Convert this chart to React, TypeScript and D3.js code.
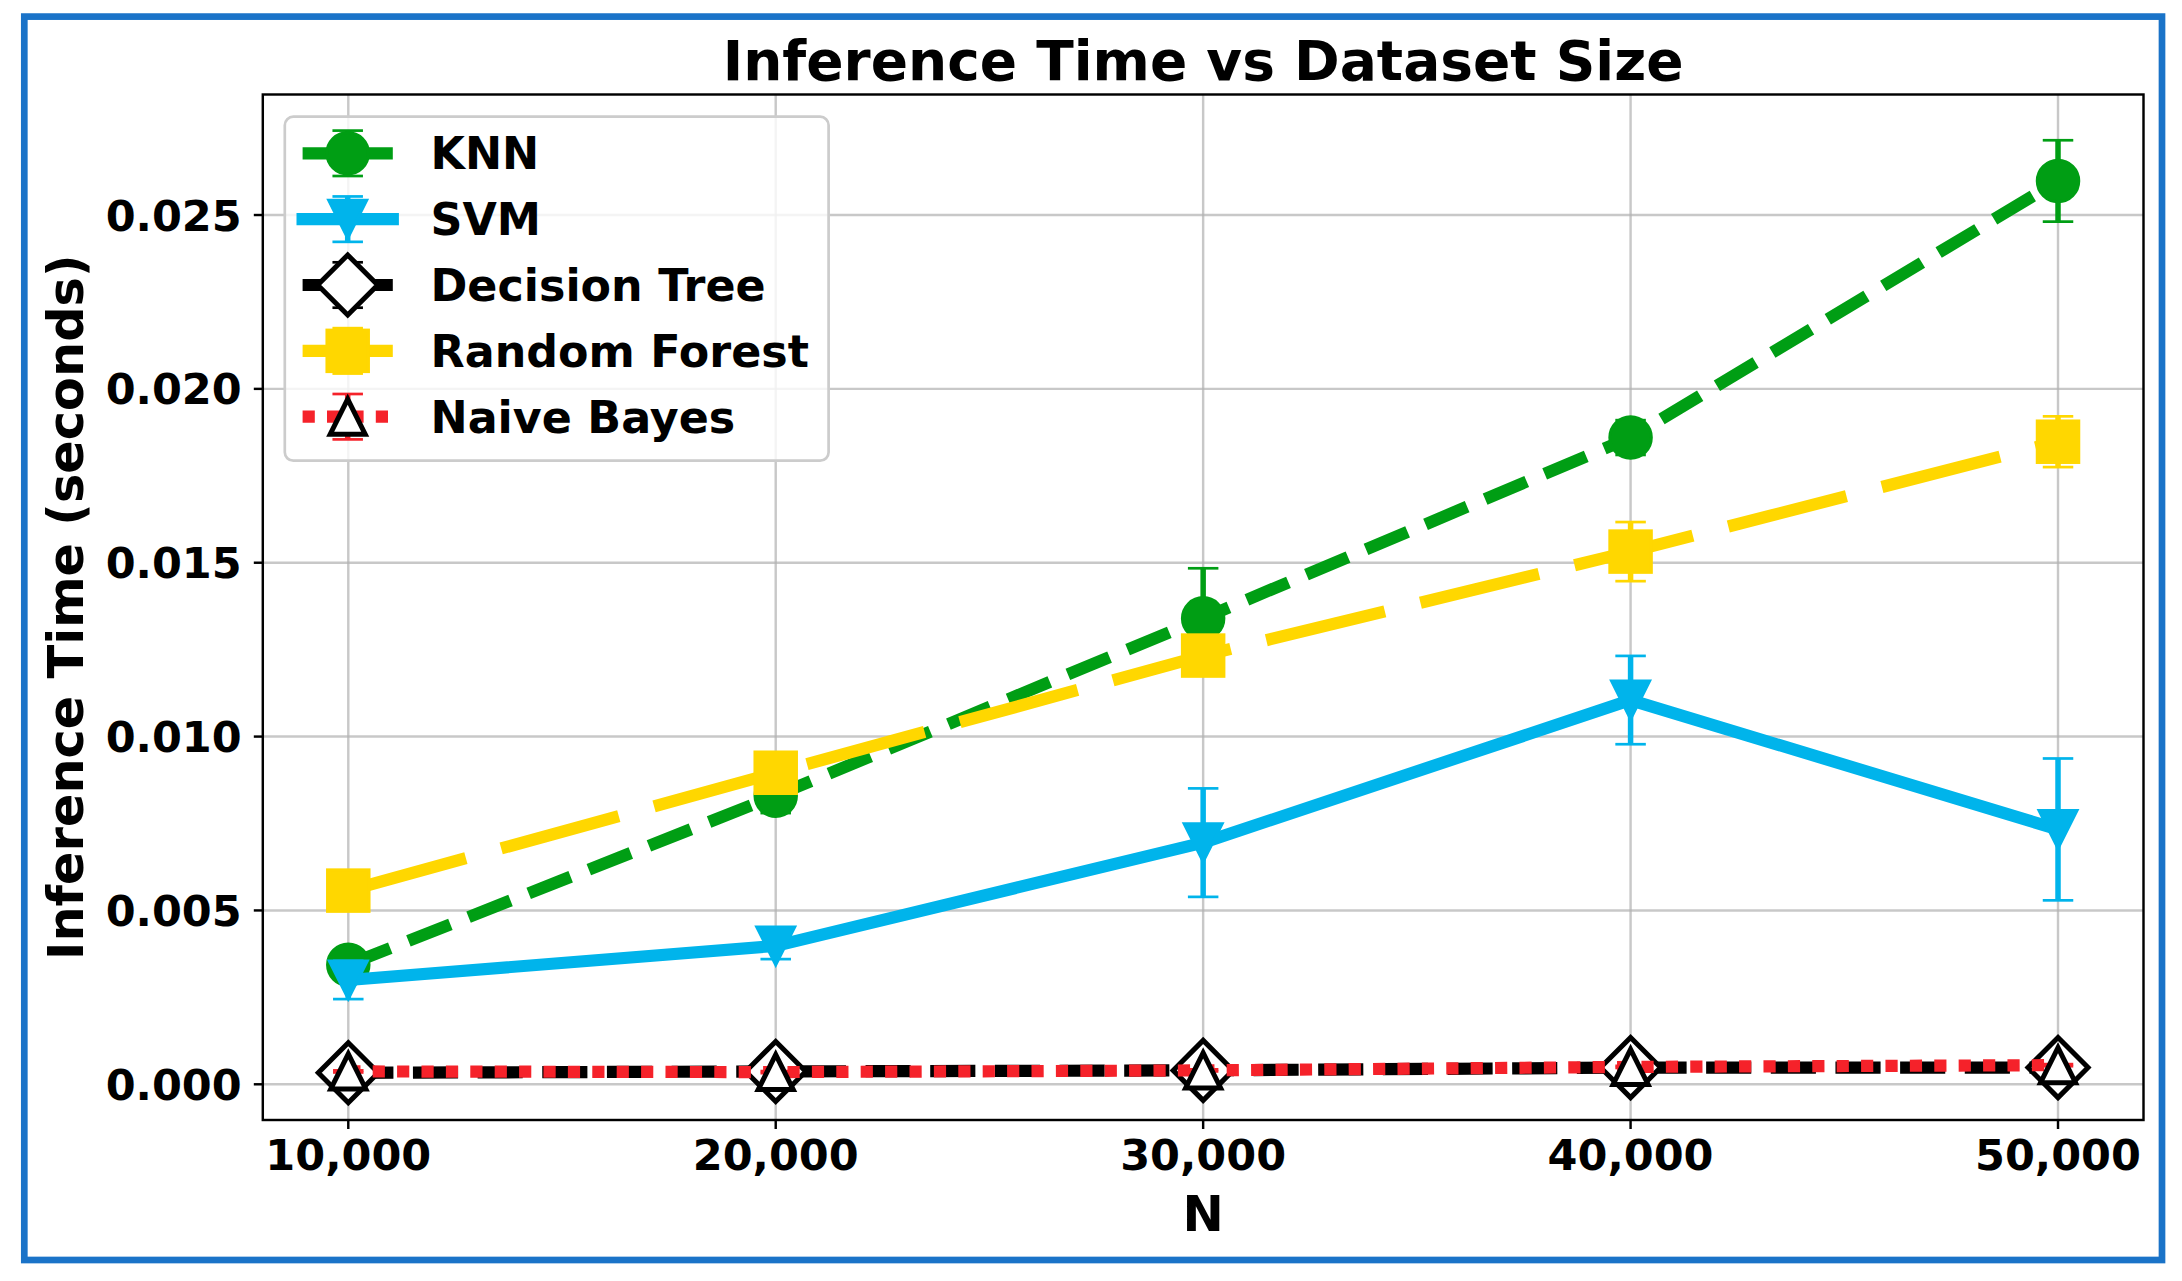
import React from 'react';
import * as d3 from 'd3';

// ---- data ----
const N_VALUES = [10000, 20000, 30000, 40000, 50000];
const SERIES_NAMES = ['KNN', 'SVM', 'Decision Tree', 'Random Forest', 'Naive Bayes'];
const KNN_MEAN = [0.00344, 0.0083, 0.0134, 0.0186, 0.02598];
const KNN_ERR = [0.0004, 0.0005, 0.00144, 0.0005, 0.00117];
const SVM_MEAN = [0.003, 0.00398, 0.00695, 0.01105, 0.00733];
const SVM_ERR = [0.00055, 0.00038, 0.00156, 0.00127, 0.00204];
const DT_MEAN = [0.00033, 0.00037, 0.0004, 0.00048, 0.00048];
const DT_ERR = [0.00002, 0.00002, 0.00003, 0.00003, 0.00003];
const RF_MEAN = [0.00557, 0.00896, 0.01233, 0.01532, 0.01848];
const RF_ERR = [0.0004, 0.0005, 0.00058, 0.00085, 0.00073];
const NB_MEAN = [0.00037, 0.00035, 0.0004, 0.0005, 0.00055];
const NB_ERR = [0.00003, 0.00003, 0.00003, 0.00003, 0.00003];
const X_TICKS = [10000, 20000, 30000, 40000, 50000];
const Y_TICKS = [0, 0.005, 0.01, 0.015, 0.02, 0.025];
const TITLE = 'Inference Time vs Dataset Size';
const X_LABEL = 'N';
const Y_LABEL = 'Inference Time (seconds)';

// ---- layout / style ----
const W = 2182;
const H = 1281;
const PLOT = { left: 262.8, right: 2143.5, top: 94.5, bottom: 1120 };
const FONT = "'DejaVu Sans', sans-serif";
const LW = 12.2;

type Marker = 'circle' | 'tdown' | 'diamond' | 'square' | 'tup';
interface SeriesStyle {
  color: string;
  dash: string | null;
  marker: Marker;
  fill: string;
  mstroke: number;
}
const STYLES: SeriesStyle[] = [
  { color: '#009E14', dash: `${3.7 * LW} ${1.6 * LW}`, marker: 'circle', fill: '#009E14', mstroke: 3 },
  { color: '#00B4EB', dash: null, marker: 'tdown', fill: '#00B4EB', mstroke: 3 },
  { color: '#000000', dash: `${3.7 * LW} ${1.6 * LW}`, marker: 'diamond', fill: '#ffffff', mstroke: 5 },
  { color: '#FFD700', dash: `${10 * LW} ${3 * LW}`, marker: 'square', fill: '#FFD700', mstroke: 3 },
  { color: '#F5222A', dash: `${1 * LW} ${1 * LW}`, marker: 'tup', fill: '#ffffff', mstroke: 5 },
];
const MEANS = [KNN_MEAN, SVM_MEAN, DT_MEAN, RF_MEAN, NB_MEAN];
const ERRS = [KNN_ERR, SVM_ERR, DT_ERR, RF_ERR, NB_ERR];

function markerEl(m: Marker, cx: number, cy: number, st: SeriesStyle, key: string) {
  const edge = m === 'diamond' || m === 'tup' ? '#000000' : st.color;
  const common = { fill: st.fill, stroke: edge, strokeWidth: st.mstroke, strokeLinejoin: 'miter' as const };
  if (m === 'circle') return <circle key={key} cx={cx} cy={cy} r={20.75} {...common} />;
  if (m === 'square') return <rect key={key} x={cx - 20.75} y={cy - 20.75} width={41.5} height={41.5} {...common} />;
  let d = '';
  if (m === 'tdown') {
    const h = 19;
    d = `M${cx - h},${cy - h}L${cx + h},${cy - h}L${cx},${cy + h}Z`;
  } else if (m === 'tup') {
    const h = 17.5;
    d = `M${cx},${cy - h}L${cx + h},${cy + h}L${cx - h},${cy + h}Z`;
  } else {
    const r = 30;
    d = `M${cx},${cy - r}L${cx + r},${cy}L${cx},${cy + r}L${cx - r},${cy}Z`;
  }
  return <path key={key} d={d} {...common} />;
}

function errBar(x: number, y1: number, y2: number, color: string, key: string) {
  const cw = 15.25;
  return (
    <g key={key} stroke={color}>
      <line x1={x} x2={x} y1={y1} y2={y2} strokeWidth={5.5} />
      <line x1={x - cw} x2={x + cw} y1={y1} y2={y1} strokeWidth={2.7} />
      <line x1={x - cw} x2={x + cw} y1={y2} y2={y2} strokeWidth={2.7} />
    </g>
  );
}

export default function App() {
  const x = d3.scaleLinear().domain([8000, 52000]).range([PLOT.left, PLOT.right]);
  const y = d3.scaleLinear().domain([-0.001027, 0.028466]).range([PLOT.bottom, PLOT.top]);
  const fmtX = d3.format(',');
  const fmtY = d3.format('.3f');
  const line = d3
    .line<number>()
    .x((_, i) => x(N_VALUES[i]))
    .y((v) => y(v));

  const LEG = { left: 284.8, top: 116.7, right: 828.6, bottom: 460.7 };
  const legRow0 = 153.3;
  const legStep = 65.85;
  const hx0 = 302.6;
  const hx1 = 392.8;
  const hxm = 347.7;
  const legFs = 44.4;

  return (
    <div style={{ position: 'absolute', left: 0, top: 0 }}>
      <style>{'body{margin:0}'}</style>
      <svg width={W} height={H} viewBox={`0 0 ${W} ${H}`} style={{ display: 'block', background: '#fff' }}>
        <rect x={0} y={0} width={W} height={H} fill="#fff" />
        {/* grid */}
        <g stroke="#b0b0b0" strokeOpacity={0.7} strokeWidth={2.44}>
          {X_TICKS.map((t) => (
            <line key={'gx' + t} x1={x(t)} x2={x(t)} y1={PLOT.top} y2={PLOT.bottom} />
          ))}
          {Y_TICKS.map((t) => (
            <line key={'gy' + t} x1={PLOT.left} x2={PLOT.right} y1={y(t)} y2={y(t)} />
          ))}
        </g>
        {/* series */}
        {STYLES.map((st, si) => (
          <g key={'s' + si}>
            {N_VALUES.map((n, i) =>
              errBar(x(n), y(MEANS[si][i] + ERRS[si][i]), y(MEANS[si][i] - ERRS[si][i]), st.color, `e${si}-${i}`)
            )}
            <path
              d={line(MEANS[si]) || ''}
              fill="none"
              stroke={st.color}
              strokeWidth={LW}
              strokeDasharray={st.dash || undefined}
              strokeLinecap={st.dash ? 'butt' : 'square'}
              strokeLinejoin="round"
            />
            {N_VALUES.map((n, i) => markerEl(st.marker, x(n), y(MEANS[si][i]), st, `m${si}-${i}`))}
          </g>
        ))}
        {/* spines */}
        <rect
          x={PLOT.left}
          y={PLOT.top}
          width={PLOT.right - PLOT.left}
          height={PLOT.bottom - PLOT.top}
          fill="none"
          stroke="#000"
          strokeWidth={2.44}
        />
        {/* ticks */}
        <g stroke="#000" strokeWidth={2.44}>
          {X_TICKS.map((t) => (
            <line key={'tx' + t} x1={x(t)} x2={x(t)} y1={PLOT.bottom} y2={PLOT.bottom + 9} />
          ))}
          {Y_TICKS.map((t) => (
            <line key={'ty' + t} x1={PLOT.left - 9} x2={PLOT.left} y1={y(t)} y2={y(t)} />
          ))}
        </g>
        <g fontFamily={FONT} fontWeight="bold" fontSize={43} fill="#000">
          {X_TICKS.map((t) => (
            <text key={'lx' + t} x={x(t)} y={1170} textAnchor="middle">
              {fmtX(t)}
            </text>
          ))}
          {Y_TICKS.map((t) => (
            <text key={'ly' + t} x={241.7} y={y(t) + 15.6} textAnchor="end">
              {fmtY(t)}
            </text>
          ))}
        </g>
        {/* labels */}
        <text x={(PLOT.left + PLOT.right) / 2} y={1230.5} textAnchor="middle" fontFamily={FONT} fontWeight="bold" fontSize={49.4}>
          {X_LABEL}
        </text>
        <text
          transform={`translate(82.7,${(PLOT.top + PLOT.bottom) / 2}) rotate(-90)`}
          textAnchor="middle"
          fontFamily={FONT}
          fontWeight="bold"
          fontSize={49.4}
        >
          {Y_LABEL}
        </text>
        <text x={(PLOT.left + PLOT.right) / 2} y={79.5} textAnchor="middle" fontFamily={FONT} fontWeight="bold" fontSize={55}>
          {TITLE}
        </text>
        {/* legend */}
        <g>
          <rect
            x={LEG.left}
            y={LEG.top}
            width={LEG.right - LEG.left}
            height={LEG.bottom - LEG.top}
            rx={8.5}
            ry={8.5}
            fill="#fff"
            fillOpacity={0.8}
            stroke="#cccccc"
            strokeWidth={2.7}
          />
          {STYLES.map((st, si) => {
            const ry = legRow0 + si * legStep;
            return (
              <g key={'leg' + si}>
                {errBar(hxm, ry - 22.7, ry + 22.7, st.color, 'le' + si)}
                <line
                  x1={hx0}
                  x2={hx1}
                  y1={ry}
                  y2={ry}
                  stroke={st.color}
                  strokeWidth={LW}
                  strokeDasharray={st.dash || undefined}
                  strokeLinecap={st.dash ? 'butt' : 'square'}
                />
                {markerEl(st.marker, hxm, ry, st, 'lm' + si)}
                <text x={430.5} y={ry + 0.3645 * legFs} fontFamily={FONT} fontWeight="bold" fontSize={legFs}>
                  {SERIES_NAMES[si]}
                </text>
              </g>
            );
          })}
        </g>
        {/* outer border */}
        <rect x={24.3} y={16.6} width={2137.7} height={1243.4} fill="none" stroke="#1A73C8" strokeWidth={6.7} />
      </svg>
    </div>
  );
}
